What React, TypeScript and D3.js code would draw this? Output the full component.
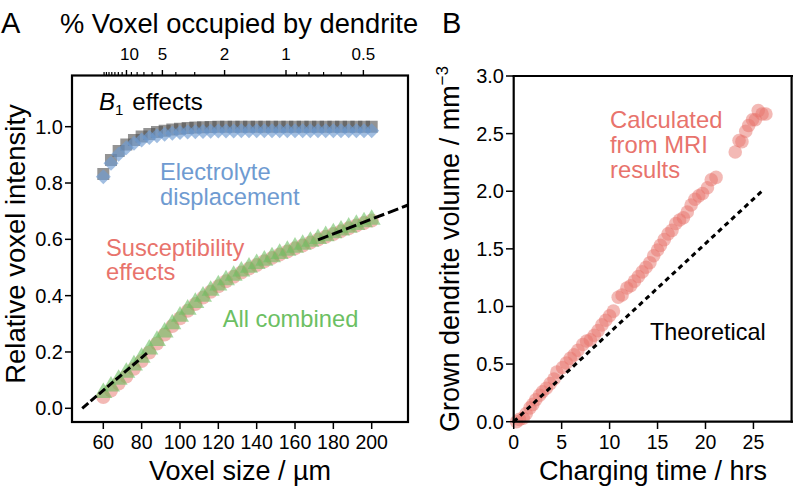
import React from "react";
import * as d3 from "d3";

// ---------- Panel A data ----------
const voxelSizes = [60, 64, 68, 72, 76, 80, 84, 88, 92, 96, 100, 104, 108, 112, 116, 120, 124, 128, 132, 136, 140, 144, 148, 152, 156, 160, 164, 168, 172, 176, 180, 184, 188, 192, 196, 200];
const b1Effects = [0.832, 0.882, 0.914, 0.937, 0.953, 0.965, 0.974, 0.981, 0.986, 0.990, 0.993, 0.995, 0.997, 0.998, 0.999, 1.0, 1.0, 1.0, 1.0, 1.0, 1.0, 1.0, 1.0, 1.0, 1.0, 1.0, 1.0, 1.0, 1.0, 1.0, 1.0, 1.0, 1.0, 1.0, 1.0, 1.0];
const electrolyte = [0.822, 0.870, 0.902, 0.925, 0.941, 0.953, 0.962, 0.968, 0.973, 0.977, 0.979, 0.981, 0.982, 0.983, 0.984, 0.985, 0.985, 0.985, 0.986, 0.986, 0.986, 0.986, 0.986, 0.986, 0.986, 0.986, 0.986, 0.986, 0.986, 0.986, 0.986, 0.986, 0.986, 0.986, 0.986, 0.986];
const susceptibility = [0.040, 0.063, 0.088, 0.113, 0.140, 0.168, 0.198, 0.230, 0.262, 0.292, 0.320, 0.346, 0.370, 0.393, 0.414, 0.433, 0.451, 0.467, 0.482, 0.496, 0.509, 0.522, 0.534, 0.546, 0.557, 0.568, 0.578, 0.589, 0.599, 0.609, 0.619, 0.629, 0.639, 0.649, 0.658, 0.667];
const allCombined = [0.055, 0.078, 0.102, 0.127, 0.153, 0.180, 0.209, 0.240, 0.270, 0.299, 0.326, 0.351, 0.375, 0.397, 0.418, 0.437, 0.455, 0.471, 0.486, 0.500, 0.513, 0.525, 0.537, 0.549, 0.560, 0.571, 0.581, 0.592, 0.602, 0.612, 0.622, 0.632, 0.642, 0.652, 0.661, 0.670];
const dashLow = [[49, 0.0], [83.5, 0.2]];
const dashHigh = [[172, 0.598], [219, 0.722]];

const xTicksA = [60, 80, 100, 120, 140, 160, 180, 200];
const yTicksA = [0, 0.2, 0.4, 0.6, 0.8, 1.0];
const topMajor = [10, 5, 2, 1, 0.5];
const topMinor = [17, 16, 15, 14, 13, 12, 11, 9, 8, 7, 6, 4, 3, 0.9, 0.8, 0.7, 0.6];
const onePercentVoxel = 155.3; // voxel size (µm) at which the dendrite fills 1 %

// ---------- Panel B data ----------
const chargeTime = [0.3, 0.6, 1.0, 1.3, 1.7, 2.0, 2.3, 2.7, 3.0, 3.4, 3.8, 4.2, 4.5, 5.1, 5.5, 5.9, 6.3, 6.7, 7.2, 7.6, 8.0, 8.4, 8.8, 9.2, 9.6, 10.0, 10.4, 10.9, 11.3, 11.8, 12.2, 12.6, 13.0, 13.4, 13.8, 14.2, 14.6, 15.0, 15.3, 15.7, 16.1, 16.5, 16.9, 17.3, 17.7, 18.1, 18.5, 18.9, 19.3, 19.7, 20.2, 20.6, 21.1, 23.1, 23.5, 23.8, 24.2, 24.5, 24.9, 25.2, 25.5, 25.9, 26.3];
const dendriteVolume = [0.0, 0.02, 0.03, 0.07, 0.12, 0.15, 0.19, 0.23, 0.26, 0.29, 0.33, 0.37, 0.43, 0.47, 0.51, 0.55, 0.58, 0.62, 0.67, 0.70, 0.71, 0.75, 0.79, 0.84, 0.88, 0.92, 0.96, 1.08, 1.10, 1.16, 1.18, 1.22, 1.26, 1.30, 1.34, 1.38, 1.44, 1.49, 1.53, 1.58, 1.63, 1.66, 1.72, 1.75, 1.77, 1.82, 1.88, 1.93, 1.96, 1.98, 2.03, 2.10, 2.12, 2.34, 2.44, 2.43, 2.52, 2.57, 2.62, 2.62, 2.70, 2.67, 2.67];
const theoretical = [[0, 0], [26, 2.01]];
const xTicksB = [0, 5, 10, 15, 20, 25];
const yTicksB = [0, 0.5, 1.0, 1.5, 2.0, 2.5, 3.0];

const FONT = "'Liberation Sans', Arial, Helvetica, sans-serif";
const RED = "#e8736c";
const GREEN = "#6cbf63";
const BLUE = "#6f9bd1";
const GRAY = "#4d4d4d";

export default function App() {
  // Panel A scales
  const xA = d3.scaleLinear().domain([43.67, 218.94]).range([72, 408]);
  const yA = d3.scaleLinear().domain([-0.0487, 1.1818]).range([422, 75.5]);
  const topX = (p: number) => xA(onePercentVoxel / Math.cbrt(p));

  // Panel B scales
  const xB = d3.scaleLinear().domain([0, 29]).range([513.7, 791.8]);
  const yB = d3.scaleLinear().domain([0, 3]).range([421.7, 76]);

  const lineA = d3.line<number[]>().x((d) => xA(d[0])).y((d) => yA(d[1]));
  const lineB = d3.line<number[]>().x((d) => xB(d[0])).y((d) => yB(d[1]));

  const sq = d3.symbol().type(d3.symbolSquare).size(144)();
  const dia = "M0,-7.5L7.5,0L0,7.5L-7.5,0Z";
  const tri = d3.symbol().type(d3.symbolTriangle).size(140)();

  return (
    <svg width={793} height={494} style={{ position: "absolute", left: 0, top: 0, background: "#fff" }} fontFamily={FONT}>
      <defs>
        <clipPath id="clipA">
          <rect x={72} y={75.5} width={336} height={346.5} />
        </clipPath>
      </defs>
      {/* Panel labels */}
      <text x={1} y={33} fontSize={29}>A</text>
      <text x={442} y={33} fontSize={29}>B</text>

      {/* ===== Panel A ===== */}
      <text x={60} y={33} fontSize={27.3}>% Voxel occupied by dendrite</text>
      {/* top axis ticks */}
      {topMinor.map((p) => (
        <line key={"mi" + p} x1={topX(p)} x2={topX(p)} y1={75.5} y2={72} stroke="#000" strokeWidth={1.2} />
      ))}
      {topMajor.map((p) => (
        <g key={"ma" + p}>
          <line x1={topX(p)} x2={topX(p)} y1={75.5} y2={70} stroke="#000" strokeWidth={1.4} />
          <text x={topX(p) + (p === 10 ? 3 : 0)} y={60} fontSize={17} textAnchor="middle">{String(p)}</text>
        </g>
      ))}

      <g clipPath="url(#clipA)">
        {voxelSizes.map((v, i) => (
          <path key={"b1" + i} d={sq} transform={`translate(${xA(v)},${yA(b1Effects[i])})`} fill={GRAY} fillOpacity={0.6} />
        ))}
        {voxelSizes.map((v, i) => (
          <path key={"el" + i} d={dia} transform={`translate(${xA(v)},${yA(electrolyte[i])})`} fill={BLUE} fillOpacity={0.65} />
        ))}
        {voxelSizes.map((v, i) => (
          <circle key={"su" + i} cx={xA(v)} cy={yA(susceptibility[i])} r={7} fill={RED} fillOpacity={0.5} />
        ))}
        {voxelSizes.map((v, i) => (
          <path key={"ac" + i} d={tri} transform={`translate(${xA(v)},${yA(allCombined[i])})`} fill={GREEN} fillOpacity={0.6} />
        ))}
        <path d={lineA(dashLow) || ""} stroke="#000" strokeWidth={3} strokeDasharray="8,3" fill="none" />
        <path d={lineA(dashHigh) || ""} stroke="#000" strokeWidth={3} strokeDasharray="11,4" fill="none" />
      </g>

      {/* frame A */}
      <rect x={72} y={75.5} width={336} height={346.5} fill="none" stroke="#000" strokeWidth={2.2} />
      {xTicksA.map((t) => (
        <g key={"xa" + t}>
          <line x1={xA(t)} x2={xA(t)} y1={422} y2={429} stroke="#000" strokeWidth={1.5} />
          <text x={xA(t)} y={449} fontSize={19.5} textAnchor="middle">{String(t)}</text>
        </g>
      ))}
      {yTicksA.map((t) => (
        <g key={"ya" + t}>
          <line x1={65} x2={72} y1={yA(t)} y2={yA(t)} stroke="#000" strokeWidth={1.5} />
          <text x={63} y={yA(t) + 7} fontSize={20} textAnchor="end">{t.toFixed(1)}</text>
        </g>
      ))}
      <text x={240} y={480} fontSize={27} textAnchor="middle">Voxel size / µm</text>
      <text transform="translate(25,244) rotate(-90)" fontSize={27.5} textAnchor="middle">Relative voxel intensity</text>

      {/* annotations A */}
      <text x={99} y={110} fontSize={24}>
        <tspan fontStyle="italic">B</tspan>
        <tspan fontSize={15} dy={5}>1</tspan>
        <tspan dy={-5} dx={9}>effects</tspan>
      </text>
      <text x={160} y={180} fontSize={23.7} fill={BLUE}>Electrolyte</text>
      <text x={160} y={205} fontSize={23.7} fill={BLUE}>displacement</text>
      <text x={106} y={256} fontSize={23.7} fill={RED}>Susceptibility</text>
      <text x={106} y={280} fontSize={23.7} fill={RED}>effects</text>
      <text x={222.7} y={326.7} fontSize={23.7} fill={GREEN}>All combined</text>

      {/* ===== Panel B ===== */}
      {chargeTime.map((t, i) => (
        <circle key={"b" + i} cx={xB(t)} cy={yB(dendriteVolume[i])} r={6.8} fill={RED} fillOpacity={0.5} />
      ))}
      <path d={lineB(theoretical) || ""} stroke="#000" strokeWidth={3} strokeDasharray="5,4" fill="none" />
      <line x1={513.7} x2={513.7} y1={76} y2={422.8} stroke="#000" strokeWidth={2.2} />
      <line x1={512.6} x2={793} y1={421.7} y2={421.7} stroke="#000" strokeWidth={2.2} />
      <line x1={512.6} x2={793} y1={76} y2={76} stroke="#000" strokeWidth={2.2} />
      <line x1={791.6} x2={791.6} y1={76} y2={422.8} stroke="#000" strokeWidth={2.2} />
      {xTicksB.map((t) => (
        <g key={"xb" + t}>
          <line x1={xB(t)} x2={xB(t)} y1={421.7} y2={429} stroke="#000" strokeWidth={1.5} />
          <text x={xB(t)} y={449} fontSize={19.5} textAnchor="middle">{String(t)}</text>
        </g>
      ))}
      {yTicksB.map((t) => (
        <g key={"yb" + t}>
          <line x1={506} x2={513.7} y1={yB(t)} y2={yB(t)} stroke="#000" strokeWidth={1.5} />
          <text x={504} y={yB(t) + 7} fontSize={20} textAnchor="end">{t.toFixed(1)}</text>
        </g>
      ))}
      <text x={653} y={480} fontSize={27} textAnchor="middle">Charging time / hrs</text>
      <text transform="translate(459,249) rotate(-90)" fontSize={27} textAnchor="middle">
        Grown dendrite volume / mm
        <tspan fontSize={17} dy={-11}>−3</tspan>
      </text>
      <text x={610} y={128.3} fontSize={23.8} fill={RED}>Calculated</text>
      <text x={610} y={153.3} fontSize={23.8} fill={RED}>from MRI</text>
      <text x={610} y={178.3} fontSize={23.8} fill={RED}>results</text>
      <text x={650} y={340} fontSize={23.4}>Theoretical</text>
    </svg>
  );
}
